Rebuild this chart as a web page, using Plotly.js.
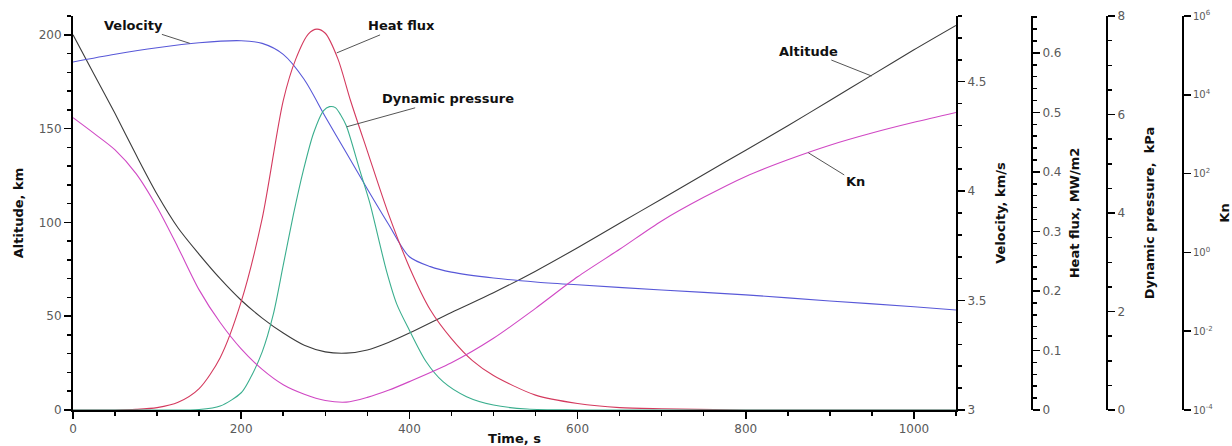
<!DOCTYPE html>
<html>
<head>
<meta charset="utf-8">
<script src="https://cdn.plot.ly/plotly-3.0.1.min.js"></script>
<style>html,body{margin:0;padding:0;background:#fff;}#chart{width:1232px;height:446px;}</style>
</head>
<body>
<div id="chart"></div>
<script>
// ---- Data ----
const altTime = [0,25,50,75,100,125,150,175,200,225,250,275,300,325,350,375,400,450,500,550,600,650,700,750,800,850,900,950,1000,1050];
const altitudeKm = [200,179,158,136,115,97,83,70,58.5,49,41,34.5,31,30.3,32,36,41,52,62.5,74,86.5,99.5,112.5,125.5,138.5,151.5,165,178.5,192,205];

const velTime = [0,50,100,150,200,225,250,275,300,325,350,375,400,425,450,500,550,600,700,800,900,1000,1050];
const velocityKms = [4.59,4.625,4.655,4.678,4.687,4.675,4.625,4.51,4.34,4.175,4.01,3.85,3.70,3.655,3.63,3.603,3.585,3.572,3.548,3.526,3.498,3.472,3.457];

const heatTime = [0,50,75,100,125,150,175,200,225,250,265,280,290,300,315,330,350,375,400,425,450,475,500,550,600,650,700,800,1050];
const heatFluxMW = [0,0,0.001,0.004,0.013,0.036,0.088,0.182,0.322,0.52,0.59,0.632,0.64,0.633,0.59,0.52,0.435,0.33,0.24,0.168,0.12,0.083,0.058,0.025,0.011,0.004,0.002,0,0];

const dynTime = [0,100,150,175,200,210,225,238,250,262,274,286,298,305,312,318,325,341,353,363,373,385,400,420,440,468,500,540,600,1050];
const dynPressureKPa = [0,0,0.01,0.08,0.35,0.62,1.18,1.93,2.94,3.96,4.87,5.62,6.08,6.16,6.14,6.0,5.77,4.87,4.2,3.5,2.81,2.15,1.62,0.98,0.575,0.27,0.10,0.02,0,0];

const knTime = [0,25,50,75,100,125,150,175,200,225,250,275,300,325,350,375,400,450,500,550,600,650,700,750,800,850,900,950,1000,1050];
const knudsen = [2630,1050,400,100,14,1.32,0.112,0.0166,3.55e-3,1.07e-3,4.37e-4,2.51e-4,1.74e-4,1.58e-4,2.09e-4,3.16e-4,5.25e-4,1.58e-3,6.6e-3,0.038,0.24,1.2,6.3,25,85,224,525,1070,2000,3550];

const knTickVals = [1e-4,1e-2,1,1e2,1e4,1e6];
const knTickText = ['10<sup>-4</sup>','10<sup>-2</sup>','10<sup>0</sup>','10<sup>2</sup>','10<sup>4</sup>','10<sup>6</sup>'];

// label anchors: [text, time, value, axis, dx, dy]
const curveLabels = [
  ['Velocity', 139, 4.675, 'y2', -56, -18],
  ['Heat flux', 313.6, 0.60, 'y3', 65, -27],
  ['Dynamic pressure', 325.4, 5.75, 'y4', 101, -28],
  ['Altitude', 949.7, 178, 'y', -63, -25],
  ['Kn', 874.3, 2.53, 'y5', 47, 29]
];

// ---- Styling ----
const FONT = 'DejaVu Sans, Liberation Sans, Arial, sans-serif';
const tickFont = {family: FONT, size: 12, color: '#5a5a5a'};
const titleFont = {family: FONT, size: 13, color: '#111'};
const lw = 1.1;

const traces = [
  {x: altTime, y: altitudeKm, yaxis: 'y', mode: 'lines', line: {color: '#3c3c3c', width: lw, shape: 'spline', smoothing: 0.8}},
  {x: velTime, y: velocityKms, yaxis: 'y2', mode: 'lines', line: {color: '#5858d8', width: lw, shape: 'spline', smoothing: 0.8}},
  {x: heatTime, y: heatFluxMW, yaxis: 'y3', mode: 'lines', line: {color: '#d43a5e', width: lw, shape: 'spline', smoothing: 0.8}},
  {x: dynTime, y: dynPressureKPa, yaxis: 'y4', mode: 'lines', line: {color: '#3aae8e', width: lw, shape: 'spline', smoothing: 0.8}},
  {x: knTime, y: knudsen, yaxis: 'y5', mode: 'lines', line: {color: '#d048c4', width: lw, shape: 'spline', smoothing: 0.8}}
];

const plotW = 1232 - 73;
const dom = (956 - 73) / plotW;
function pos(px) { return (px - 73) / plotW; }

function yax(extra) {
  return Object.assign({
    showline: true, linecolor: '#000', linewidth: 2,
    ticks: 'outside', ticklen: 7, tickwidth: 1.5, tickcolor: '#000',
    showgrid: false, zeroline: false, tickfont: tickFont
  }, extra);
}

const layout = {
  width: 1232, height: 446,
  margin: {l: 73, r: 0, t: 16, b: 36},
  paper_bgcolor: '#fff', plot_bgcolor: '#fff',
  showlegend: false,
  font: {family: FONT},
  xaxis: {
    domain: [0, dom], range: [0, 1050], dtick: 200,
    showline: true, linecolor: '#000', linewidth: 2,
    ticks: 'outside', ticklen: 7, tickwidth: 1.5, tickcolor: '#000',
    minor: {dtick: 50, ticklen: 4, ticks: 'outside', tickcolor: '#000', showgrid: false},
    showgrid: false, zeroline: false, tickfont: tickFont,
    title: {text: '<b>Time, s</b>', font: titleFont, standoff: 3}
  },
  yaxis: yax({
    range: [0, 210], dtick: 50,
    minor: {dtick: 10, ticklen: 4, ticks: 'outside', tickcolor: '#000', showgrid: false},
    title: {text: '<b>Altitude, km</b>', font: titleFont, standoff: 12}
  }),
  yaxis2: yax({
    overlaying: 'y', side: 'right', anchor: 'x',
    range: [3, 4.8], dtick: 0.5,
    minor: {dtick: 0.1, ticklen: 4, ticks: 'outside', tickcolor: '#000', showgrid: false},
    title: {text: '<b>Velocity, km/s</b>', font: titleFont, standoff: 10}
  }),
  yaxis3: yax({
    overlaying: 'y', side: 'right', anchor: 'free', position: pos(1032),
    range: [0, 0.662], dtick: 0.1,
    minor: {dtick: 0.02, ticklen: 4, ticks: 'outside', tickcolor: '#000', showgrid: false},
    title: {text: '<b>Heat flux, MW/m2</b>', font: titleFont, standoff: 8}
  }),
  yaxis4: yax({
    overlaying: 'y', side: 'right', anchor: 'free', position: pos(1107),
    range: [0, 8], dtick: 2,
    minor: {dtick: 0.5, ticklen: 4, ticks: 'outside', tickcolor: '#000', showgrid: false},
    title: {text: '<b>Dynamic pressure,  kPa</b>', font: titleFont, standoff: 20}
  }),
  yaxis5: yax({
    overlaying: 'y', side: 'right', anchor: 'free', position: pos(1183),
    type: 'log', range: [-4, 6],
    tickvals: knTickVals, ticktext: knTickText,
    tickfont: {family: FONT, size: 10, color: '#5a5a5a'},
    title: {text: '<b>Kn</b>', font: titleFont, standoff: 15}
  }),
  annotations: curveLabels.map(function (l) {
    return {
      text: '<b>' + l[0] + '</b>', x: l[1], y: l[2], xref: 'x', yref: l[3],
      ax: l[4], ay: l[5], showarrow: true, arrowhead: 0, arrowwidth: 1,
      arrowcolor: '#555', font: {family: FONT, size: 13, color: '#111'}
    };
  })
};

Plotly.newPlot('chart', traces, layout, {staticPlot: true, displayModeBar: false});
</script>
</body>
</html>
